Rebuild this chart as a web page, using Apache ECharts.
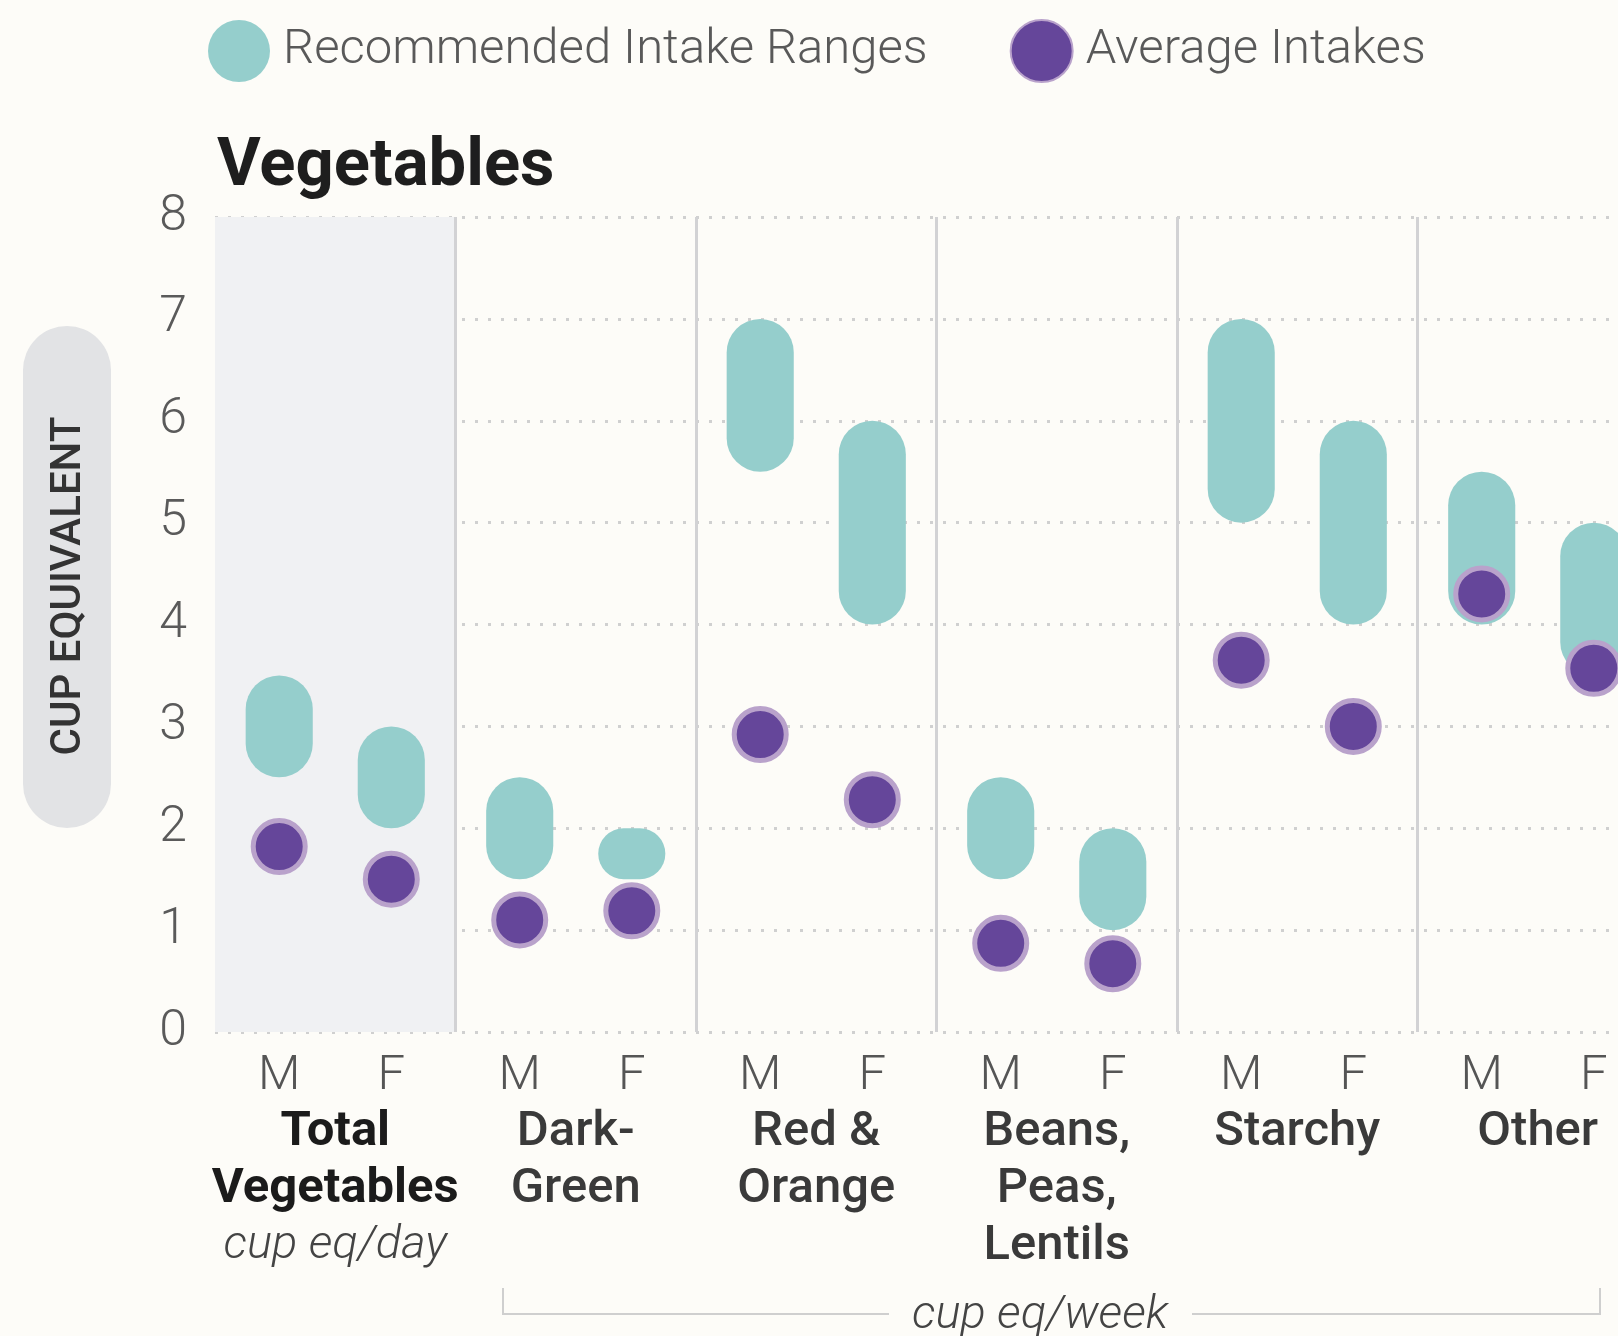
<!DOCTYPE html>
<html>
<head>
<meta charset="utf-8">
<title>Vegetables</title>
<script src="https://cdn.jsdelivr.net/npm/echarts@6/dist/echarts.min.js"></script>
<style>
  html, body { margin: 0; padding: 0; background: #fdfcf8; overflow: hidden; }
  /* the chart runs past the right edge of the page, as in the source */
  #main { width: 1700px; height: 1336px; }
</style>
</head>
<body>
<div id="main"></div>
<script>
// data
var categories = ['Total Vegetables', 'Dark-Green', 'Red & Orange', 'Beans, Peas, Lentils', 'Starchy', 'Other'];
var categoryLines = [['Total', 'Vegetables'], ['Dark-', 'Green'], ['Red &', 'Orange'], ['Beans,', 'Peas,', 'Lentils'], ['Starchy'], ['Other']];
var sexes = ['M', 'F'];
var rangeLowM = [2.5, 1.5, 5.5, 1.5, 5, 4];
var rangeHighM = [3.5, 2.5, 7, 2.5, 7, 5.5];
var rangeLowF = [2, 1.5, 4, 1, 4, 3.5];
var rangeHighF = [3, 2, 6, 2, 6, 5];
var avgM = [1.82, 1.1, 2.92, 0.87, 3.65, 4.3];
var avgF = [1.5, 1.19, 2.28, 0.67, 3.0, 3.57];
var yTicks = [0, 1, 2, 3, 4, 5, 6, 7, 8];

var FONT = 'Roboto, "Noto Sans", sans-serif';
var teal = '#95cecc';
var purple = '#65469a';
var purpleEdge = '#b9a2cb';

var rangeData = [];
var avgData = [];
categories.forEach(function (c, i) {
    rangeData.push([i, 0, rangeLowM[i], rangeHighM[i]]);
    rangeData.push([i, 1, rangeLowF[i], rangeHighF[i]]);
    avgData.push([i, 0, avgM[i]]);
    avgData.push([i, 1, avgF[i]]);
});

// M sits left of the group centre, F right of it
function sideX(cx, side, band) {
    return cx + (side === 0 ? -1 : 1) * band * 0.233;
}

var chart = echarts.init(document.getElementById('main'));

var option = {
    backgroundColor: '#fdfcf8',
    animation: false,
    title: {
        text: 'Vegetables',
        left: 212,
        top: 130,
        textStyle: { fontFamily: FONT, fontSize: 67, fontWeight: 'bold', color: '#1e1e1e' }
    },
    legend: {
        left: 203,
        top: 14,
        itemWidth: 62,
        itemHeight: 62,
        itemGap: 82,
        icon: 'circle',
        textStyle: { fontFamily: FONT, fontSize: 49, fontWeight: 300, color: '#595959', padding: [0, 0, 0, 8] },
        data: ['Recommended Intake Ranges', 'Average Intakes']
    },
    grid: { left: 215, top: 217, width: 1443, height: 815 },
    xAxis: {
        type: 'category',
        data: categories,
        boundaryGap: true,
        axisLine: { show: false },
        axisTick: { show: false },
        splitLine: {
            show: true,
            interval: function (index) { return index > 0; },
            lineStyle: { color: '#d2d2d4', width: 3 }
        },
        splitArea: {
            show: true,
            areaStyle: { color: ['#f0f1f3', 'rgba(0,0,0,0)', 'rgba(0,0,0,0)', 'rgba(0,0,0,0)', 'rgba(0,0,0,0)', 'rgba(0,0,0,0)'] }
        },
        axisLabel: {
            interval: 0,
            margin: 17,
            formatter: function (value, index) {
                var s = '{sx|' + sexes[0] + '}{sx|' + sexes[1] + '}';
                var style = index === 0 ? 'b' : 'n';
                categoryLines[index].forEach(function (l) { s += '\n{' + style + '|' + l + '}'; });
                if (index === 0) s += '\n{u|cup eq/day}';
                return s;
            },
            rich: {
                sx: { width: 112, align: 'center', fontFamily: FONT, fontSize: 49, fontWeight: 300, color: '#555', lineHeight: 55 },
                b: { align: 'center', fontFamily: FONT, fontSize: 49, fontWeight: 'bold', color: '#1b1b1b', lineHeight: 57 },
                n: { align: 'center', fontFamily: FONT, fontSize: 49, fontWeight: 500, color: '#3a3a3a', lineHeight: 57 },
                u: { align: 'center', fontFamily: FONT, fontSize: 47, fontWeight: 300, fontStyle: 'italic', color: '#444', lineHeight: 57 }
            }
        }
    },
    yAxis: {
        type: 'value',
        min: yTicks[0],
        max: yTicks[yTicks.length - 1],
        interval: 1,
        axisLine: { show: false },
        axisTick: { show: false },
        axisLabel: { margin: 28, fontFamily: FONT, fontSize: 50, fontWeight: 300, color: '#5a5a5a' },
        splitLine: { show: true, lineStyle: { color: '#d0d0d0', width: 3, type: [3, 10] } }
    },
    series: [
        {
            name: 'Recommended Intake Ranges',
            type: 'custom',
            itemStyle: { color: teal },
            encode: { x: 0, y: [2, 3] },
            renderItem: function (params, api) {
                var lo = api.coord([api.value(0), api.value(2)]);
                var hi = api.coord([api.value(0), api.value(3)]);
                var band = api.size([1, 0])[0];
                var x = sideX(lo[0], api.value(1), band);
                var w = band * 0.279;
                var h = lo[1] - hi[1];
                return {
                    type: 'rect',
                    shape: { x: x - w / 2, y: hi[1], width: w, height: h, r: Math.min(w / 2, h / 2) },
                    style: { fill: teal }
                };
            },
            data: rangeData
        },
        {
            name: 'Average Intakes',
            type: 'custom',
            itemStyle: { color: purple, borderColor: purpleEdge, borderWidth: 5 },
            encode: { x: 0, y: 2 },
            renderItem: function (params, api) {
                var p = api.coord([api.value(0), api.value(2)]);
                var band = api.size([1, 0])[0];
                return {
                    type: 'circle',
                    shape: { cx: sideX(p[0], api.value(1), band), cy: p[1], r: 26 },
                    style: { fill: purple, stroke: purpleEdge, lineWidth: 5 }
                };
            },
            data: avgData
        }
    ],
    graphic: [
        { type: 'rect', left: 23, top: 326, shape: { width: 88, height: 502, r: 44 }, style: { fill: '#e2e3e5' } },
        {
            type: 'text', x: 69, y: 586, rotation: Math.PI / 2,
            style: { text: 'CUP EQUIVALENT', align: 'center', verticalAlign: 'middle', font: '500 42px Roboto, sans-serif', fill: '#333' }
        },
        // cup eq/week bracket
        { type: 'polyline', shape: { points: [[503, 1288], [503, 1314], [889, 1314]] }, style: { stroke: '#cfcfcf', lineWidth: 2, fill: null } },
        { type: 'polyline', shape: { points: [[1192, 1314], [1600, 1314], [1600, 1288]] }, style: { stroke: '#cfcfcf', lineWidth: 2, fill: null } },
        {
            type: 'text', x: 1040, y: 1316,
            style: { text: 'cup eq/week', align: 'center', verticalAlign: 'middle', font: 'italic 300 47px Roboto, sans-serif', fill: '#444' }
        }
    ]
};

chart.setOption(option);
</script>
</body>
</html>
